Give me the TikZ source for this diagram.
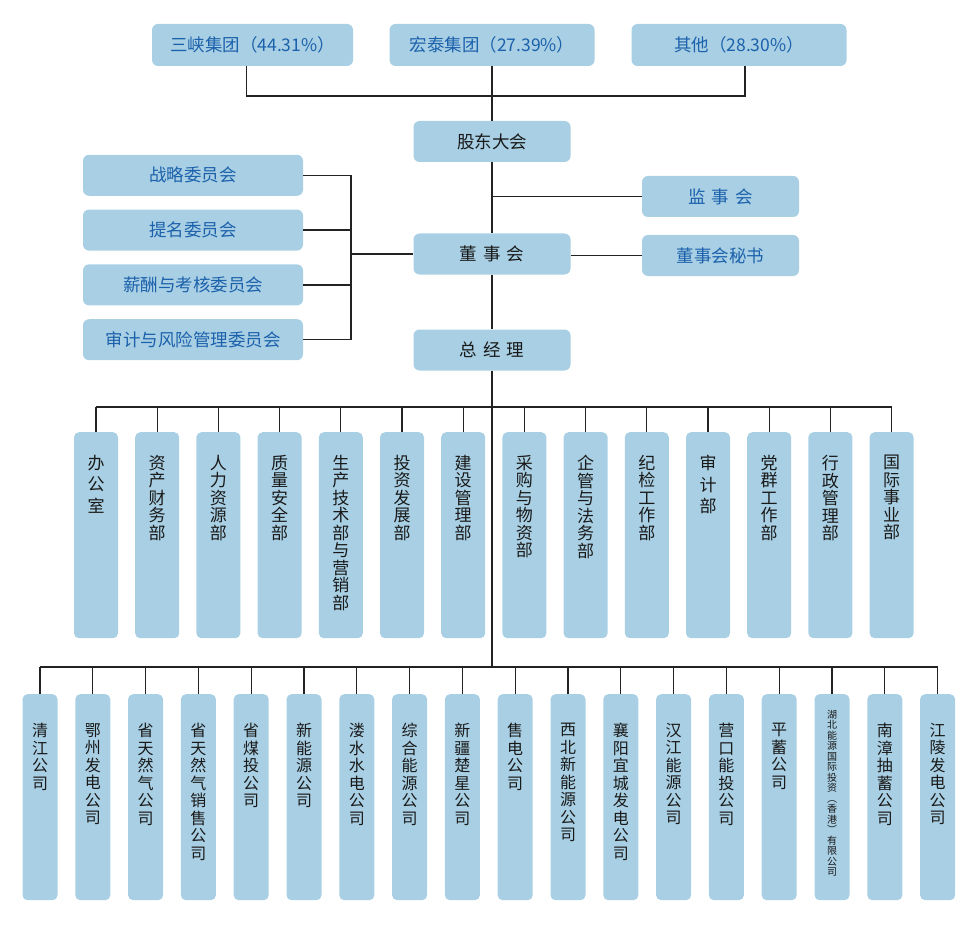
\documentclass[tikz,border=0pt]{standalone}
\usepackage{fontspec}
\setmainfont{Noto Sans CJK SC}
\usetikzlibrary{positioning}
\definecolor{boxblue}{HTML}{A8CFE3}
\definecolor{textblue}{HTML}{1C61AC}
\definecolor{linegray}{HTML}{222222}
\lineskiplimit=-20pt

\begin{document}
\begin{tikzpicture}[x=1pt,y=-1pt,
  box/.style={fill=boxblue,rounded corners=6pt,inner sep=0pt,minimum width=157pt,minimum height=41pt,font=\fontsize{17.5}{20}\selectfont,text=black!90},
  bluebox/.style={box,text=textblue},
  dept/.style={fill=boxblue,rounded corners=5pt,inner sep=0pt,minimum width=44pt,minimum height=206pt,anchor=north},
  comp/.style={fill=boxblue,rounded corners=5pt,inner sep=0pt,minimum width=35pt,minimum height=206pt,anchor=north},
  vtext/.style={anchor=north,inner sep=0pt,align=center,text=black!90,font=\fontsize{17}{17.5}\selectfont},
  ctext/.style={vtext,font=\fontsize{16}{17.5}\selectfont},
  csmall/.style={vtext,font=\fontsize{10}{10.5}\selectfont},
  conn/.style={draw=linegray,line width=1.2pt}]
  \useasboundingbox (0,0) rectangle (963,925);

  % shareholders
  \path
    (252.5,45) node[bluebox,minimum width=201pt,minimum height=42pt] (sx) {三峡集团（44.31\%）}
    (492,45) node[bluebox,minimum width=205pt,minimum height=42pt] (ht) {宏泰集团（27.39\%）}
    (739,45) node[bluebox,minimum width=215pt,minimum height=42pt] (qt) {其他（28.30\%）};
  \coordinate (top) at (492,96);
  \draw[conn] ([xshift=-6pt]sx.south) |- ([xshift=6pt]qt.south |- top) -- ([xshift=6pt]qt.south);

  % governance
  \path
    (492,141.5) node[box] (gd) {股东大会}
    (492,254) node[box] (ds) {董\hspace{0.35em}事\hspace{0.35em}会}
    (492,350) node[box] (zj) {总\hspace{0.35em}经\hspace{0.35em}理}
    (720.5,196.5) node[bluebox] (js) {监\hspace{0.35em}事\hspace{0.35em}会}
    (720.5,255.5) node[bluebox] (ms) {董事会秘书};
  \draw[conn] (ht.south) -- (gd.north);
  \draw[conn] (gd.south) -- (ds.north);
  \draw[conn] (ds.south) -- (zj.north);
  \draw[conn] (gd.south |- js.west) -- (js.west);
  \draw[conn] (ds.east |- ms.west) -- (ms.west);

  % committees
  \coordinate (br) at (351,254);
  \foreach \t [count=\i] in {战略委员会,提名委员会,薪酬与考核委员会,审计与风险管理委员会} {
    \node[bluebox,minimum width=220pt] (c\i) at (193,120.5+54.8*\i) {\t};
    \draw[conn] (c\i.east) -- (c\i.east -| br);
  }
  \draw[conn] (c1.east -| br) -- (c4.east -| br);
  \draw[conn] (br |- ds.west) -- (ds.west);

  % departments
  \coordinate (dbar) at (0,407);
  \foreach \t [count=\i from 0] in {
    {办\\[4pt]公\\[4pt]室},{资\\产\\财\\务\\部},{人\\力\\资\\源\\部},{质\\量\\安\\全\\部},
    {生\\产\\技\\术\\部\\与\\营\\销\\部},{投\\资\\发\\展\\部},{建\\设\\管\\理\\部},
    {采\\购\\与\\物\\资\\部},{企\\管\\与\\法\\务\\部},{纪\\检\\工\\作\\部},
    {审\\[4pt]计\\[4pt]部},{党\\群\\工\\作\\部},{行\\政\\管\\理\\部},{国\\际\\事\\业\\部}} {
    \node[dept] (d\i) at (96+61.2*\i,432) {};
    \node[vtext,below=23pt of d\i.north] (dt\i) {\t};
    \draw[conn] (d\i.north) -- (d\i.north |- dbar);
  }
  \draw[conn] (d0.north |- dbar) -- (d13.north |- dbar);

  % companies
  \coordinate (cbar) at (0,667);
  \draw[conn] (zj.south) -- (zj.south |- cbar);
  \foreach \s/\o/\t [count=\i from 0] in {
    ctext/29pt/{清\\江\\公\\司},ctext/29pt/{鄂\\州\\发\\电\\公\\司},ctext/29pt/{省\\天\\然\\气\\公\\司},
    ctext/29pt/{省\\天\\然\\气\\销\\售\\公\\司},ctext/29pt/{省\\煤\\投\\公\\司},ctext/29pt/{新\\能\\源\\公\\司},
    ctext/29pt/{溇\\水\\水\\电\\公\\司},ctext/29pt/{综\\合\\能\\源\\公\\司},ctext/29pt/{新\\疆\\楚\\星\\公\\司},
    ctext/29pt/{售\\电\\公\\司},ctext/29pt/{西\\北\\新\\能\\源\\公\\司},ctext/29pt/{襄\\阳\\宜\\城\\发\\电\\公\\司},
    ctext/29pt/{汉\\江\\能\\源\\公\\司},ctext/29pt/{营\\口\\能\\投\\公\\司},ctext/29pt/{平\\蓄\\公\\司},
    csmall/16pt/{湖\\北\\能\\源\\国\\际\\投\\资\\︵\\香\\港\\︶\\有\\限\\公\\司},
    ctext/29pt/{南\\漳\\抽\\蓄\\公\\司},ctext/29pt/{江\\陵\\发\\电\\公\\司}} {
    \node[comp] (g\i) at (40+52.8*\i,694) {};
    \node[\s,below=\o of g\i.north] (gt\i) {\t};
    \draw[conn] (g\i.north) -- (g\i.north |- cbar);
  }
  \draw[conn] (g0.north |- cbar) -- (g17.north |- cbar);
\end{tikzpicture}
\end{document}
